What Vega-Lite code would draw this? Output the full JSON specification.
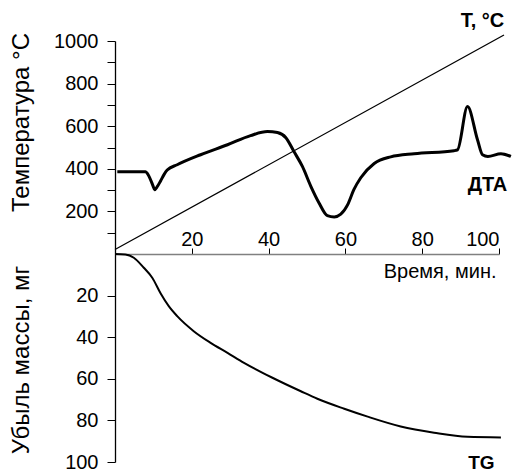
{
  "$schema": "https://vega.github.io/schema/vega-lite/v6.json",
  "padding": {"left": 9, "top": 10, "right": 0, "bottom": 0},
  "bounds": "flush",
  "spacing": 0,
  "config": {
    "font": "Liberation Sans",
    "view": {"stroke": null},
    "axis": {"grid": false, "labelFont": "Liberation Sans", "titleFont": "Liberation Sans", "labelColor": "#000", "titleColor": "#000", "titleFontWeight": "normal"}
  },
  "datasets": {
    "temp": [{"time": 0, "temp": 21}, {"time": 101.3, "temp": 1028}],
    "dta": [
      {"time": 0.6, "temp": 386}, {"time": 7.9, "temp": 386}, {"time": 8.7, "temp": 370}, {"time": 9.9, "temp": 320},
      {"time": 10.3, "temp": 302}, {"time": 11.0, "temp": 316}, {"time": 11.9, "temp": 344}, {"time": 12.8, "temp": 374},
      {"time": 13.6, "temp": 394}, {"time": 16.2, "temp": 419}, {"time": 22.3, "temp": 466}, {"time": 29.3, "temp": 513},
      {"time": 35.3, "temp": 556}, {"time": 39.7, "temp": 575}, {"time": 42.3, "temp": 570}, {"time": 44.5, "temp": 546},
      {"time": 46.6, "temp": 481}, {"time": 48.8, "temp": 411}, {"time": 51.0, "temp": 318}, {"time": 53.1, "temp": 241},
      {"time": 55.3, "temp": 180}, {"time": 57.1, "temp": 174}, {"time": 58.8, "temp": 187}, {"time": 60.6, "temp": 232},
      {"time": 62.2, "temp": 302}, {"time": 64.0, "temp": 358}, {"time": 67.5, "temp": 425}, {"time": 71.8, "temp": 456},
      {"time": 77.9, "temp": 471}, {"time": 88.3, "temp": 485}, {"time": 89.2, "temp": 489}, {"time": 91.8, "temp": 692},
      {"time": 94.4, "temp": 536}, {"time": 95.7, "temp": 466}, {"time": 97.1, "temp": 458}, {"time": 100.5, "temp": 471},
      {"time": 103.1, "temp": 458}
    ],
    "tg": [
      {"time": 0, "mass": 0}, {"time": 2.7, "mass": 0.2}, {"time": 4.9, "mass": 1.8}, {"time": 7.5, "mass": 6.6},
      {"time": 9.7, "mass": 11.4}, {"time": 11.9, "mass": 19.0}, {"time": 14.0, "mass": 25.1}, {"time": 16.2, "mass": 29.9},
      {"time": 20.5, "mass": 37.1}, {"time": 24.9, "mass": 42.7}, {"time": 29.3, "mass": 47.5}, {"time": 33.6, "mass": 52.3},
      {"time": 41.0, "mass": 59.5}, {"time": 48.4, "mass": 66.0}, {"time": 52.7, "mass": 69.6}, {"time": 59.7, "mass": 74.4},
      {"time": 65.8, "mass": 78.2}, {"time": 74.4, "mass": 82.9}, {"time": 83.1, "mass": 85.9}, {"time": 91.8, "mass": 87.9},
      {"time": 100.5, "mass": 88.2}
    ],
    "toplabels": [{"time": 95.7, "temp": 1094, "label": "T, °C"}, {"time": 97.0, "temp": 325, "label": "ДТА"}],
    "botlabels": [{"time": 95.4, "mass": 100.7, "label": "TG"}]
  },
  "vconcat": [
    {
      "width": 384,
      "height": 213,
      "encoding": {
        "x": {"field": "time", "type": "quantitative", "scale": {"domain": [0, 100], "nice": false}, "axis": null},
        "y": {
          "field": "temp", "type": "quantitative",
          "scale": {"domain": [0, 1000], "nice": false},
          "axis": {
            "title": "Температура °C", "titleFontSize": 24, "titleX": -93.5, "titleY": 81, "titleAlign": "center", "titleBaseline": "middle", "titleAngle": -90,
            "values": [100, 200, 300, 400, 500, 600, 700, 800, 900, 1000],
            "labelExpr": "datum.value % 200 == 0 ? '' + datum.value : ''",
            "labelFontSize": 20, "labelPadding": 9, "tickSize": 8, "tickColor": "#000", "domainColor": "#000", "domainWidth": 1.3, "tickWidth": 1
          }
        }
      },
      "layer": [
        {"data": {"name": "temp"}, "mark": {"type": "line", "color": "#000", "strokeWidth": 1.3}},
        {"data": {"name": "dta"}, "mark": {"type": "line", "color": "#000", "strokeWidth": 3, "strokeJoin": "round", "interpolate": "monotone"}},
        {"data": {"name": "toplabels"}, "mark": {"type": "text", "fontWeight": "bold", "fontSize": 20, "align": "center", "baseline": "middle", "color": "#000"}, "encoding": {"text": {"field": "label"}}}
      ]
    },
    {
      "width": 384,
      "height": 208,
      "encoding": {
        "x": {
          "field": "time", "type": "quantitative", "scale": {"domain": [0, 100], "nice": false},
          "axis": {
            "orient": "top", "values": [20, 40, 60, 80, 100], "labelFontSize": 20, "tickSize": 6, "labelPadding": -1,
            "tickColor": "#000", "domainColor": "#808080", "domainWidth": 1.5,
            "title": "Время, мин.", "titleFontSize": 20, "titleX": 381, "titleY": 17, "titleAlign": "right", "titleBaseline": "middle", "titleAnchor": null
          }
        },
        "y": {
          "field": "mass", "type": "quantitative",
          "scale": {"domain": [0, 100], "nice": false, "reverse": true},
          "axis": {
            "title": "Убыль массы, мг", "titleFontSize": 24, "titleX": -93.5, "titleY": 105.5, "titleAlign": "center", "titleBaseline": "middle", "titleAngle": -90,
            "values": [20, 40, 60, 80, 100],
            "labelFontSize": 20, "labelPadding": 9, "tickSize": 8, "tickColor": "#000", "domainColor": "#000", "domainWidth": 1.3
          }
        }
      },
      "layer": [
        {"data": {"name": "tg"}, "mark": {"type": "line", "color": "#000", "strokeWidth": 2, "interpolate": "monotone"}},
        {"data": {"name": "botlabels"}, "mark": {"type": "text", "fontWeight": "bold", "fontSize": 19, "align": "center", "baseline": "middle", "color": "#000"}, "encoding": {"text": {"field": "label"}}}
      ]
    }
  ]
}
